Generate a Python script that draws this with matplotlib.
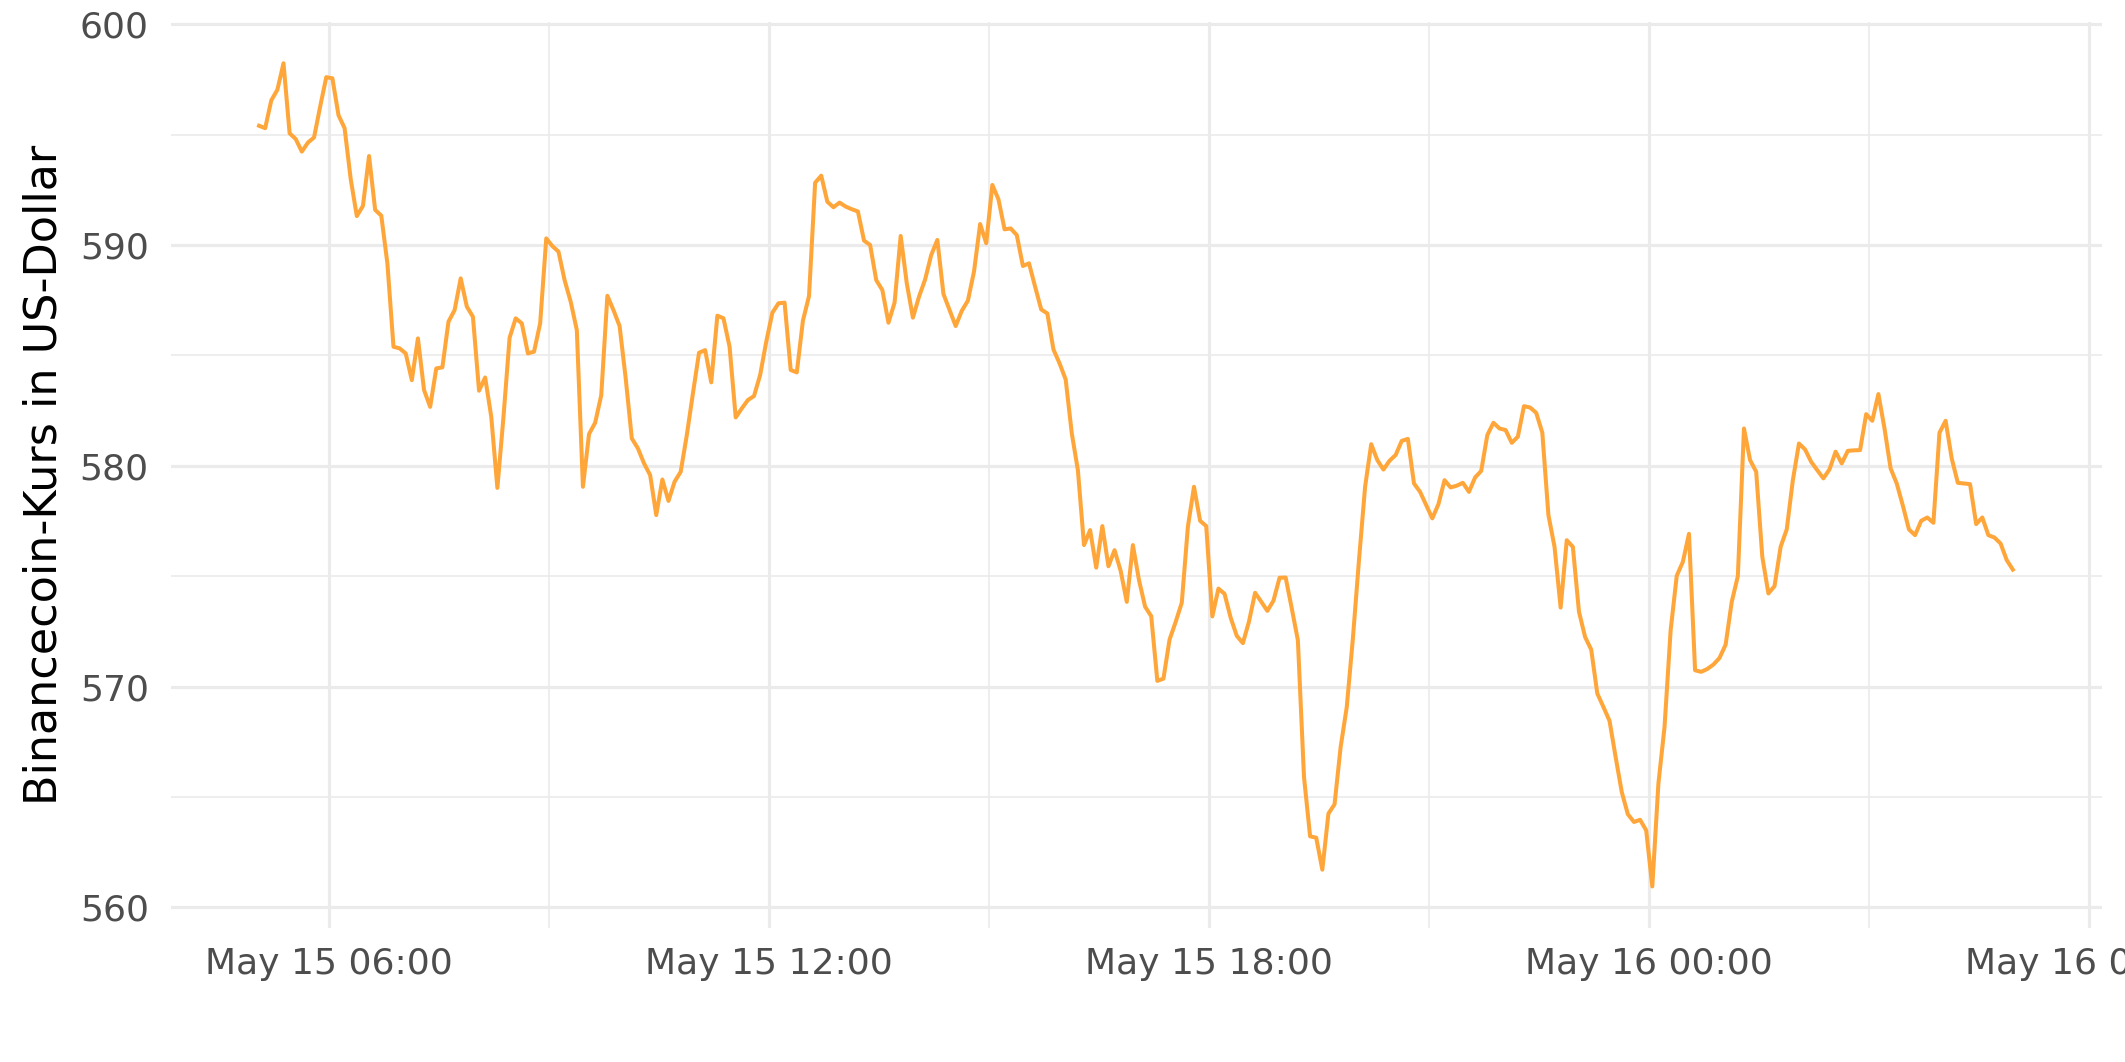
import numpy as np
import pandas as pd
import matplotlib
matplotlib.use("Agg")
import matplotlib.pyplot as plt
import matplotlib.dates as mdates
from matplotlib.ticker import MultipleLocator

# Binancecoin Kurs, 5-Minuten-Werte
start = "2021-05-15 05:03"
price = [
    595.40, 595.29, 596.55, 597.03, 598.23, 595.06, 594.80, 594.23, 594.64, 594.87,
    596.27, 597.60, 597.55, 595.88, 595.29, 592.98, 591.31, 591.77, 594.03, 591.59,
    591.33, 589.17, 585.39, 585.32, 585.09, 583.88, 585.77, 583.43, 582.67, 584.41,
    584.46, 586.53, 587.05, 588.49, 587.21, 586.75, 583.40, 584.00, 582.22, 579.00,
    582.22, 585.80, 586.68, 586.45, 585.09, 585.17, 586.45, 590.30, 589.95, 589.70,
    588.41, 587.43, 586.15, 579.05, 581.44, 581.95, 583.20, 587.70, 587.05, 586.33,
    583.96, 581.24, 580.79, 580.11, 579.58, 577.77, 579.38, 578.41, 579.28, 579.73,
    581.39, 583.28, 585.12, 585.24, 583.78, 586.80, 586.68, 585.39, 582.19, 582.60,
    582.98, 583.16, 584.11, 585.62, 586.93, 587.36, 587.39, 584.34, 584.23, 586.57,
    587.69, 592.82, 593.14, 591.96, 591.71, 591.92, 591.74, 591.62, 591.52, 590.20,
    590.00, 588.41, 587.96, 586.48, 587.39, 590.41, 588.26, 586.71, 587.66, 588.44,
    589.55, 590.23, 587.78, 587.05, 586.33, 587.02, 587.48, 588.80, 590.95, 590.08,
    592.72, 592.07, 590.71, 590.75, 590.45, 589.05, 589.17, 588.11, 587.08, 586.90,
    585.27, 584.64, 583.91, 581.47, 579.80, 576.41, 577.09, 575.39, 577.27, 575.45,
    576.18, 575.24, 573.84, 576.41, 574.82, 573.62, 573.19, 570.26, 570.36, 572.13,
    572.93, 573.80, 577.24, 579.05, 577.51, 577.27, 573.18, 574.44, 574.20, 573.12,
    572.30, 571.97, 572.95, 574.25, 573.85, 573.43, 573.89, 574.93, 574.94, 573.54,
    572.10, 565.91, 563.22, 563.16, 561.71, 564.25, 564.67, 567.27, 569.08, 572.18,
    575.73, 579.05, 580.98, 580.26, 579.83, 580.23, 580.49, 581.13, 581.22, 579.20,
    578.82, 578.22, 577.62, 578.26, 579.35, 579.02, 579.10, 579.23, 578.82, 579.47,
    579.77, 581.39, 581.95, 581.69, 581.62, 581.04, 581.32, 582.70, 582.64, 582.40,
    581.50, 577.77, 576.33, 573.58, 576.63, 576.33, 573.39, 572.25, 571.68, 569.69,
    569.08, 568.45, 566.81, 565.23, 564.22, 563.87, 563.97, 563.49, 560.95, 565.61,
    568.17, 572.55, 575.02, 575.65, 576.92, 570.74, 570.67, 570.80, 571.00, 571.30,
    571.90, 573.84, 575.00, 581.69, 580.26, 579.73, 575.88, 574.22, 574.55, 576.33,
    577.12, 579.35, 581.01, 580.74, 580.18, 579.80, 579.43, 579.84, 580.64, 580.11,
    580.68, 580.70, 580.71, 582.34, 582.04, 583.25, 581.69, 579.88, 579.20, 578.20,
    577.12, 576.86, 577.51, 577.66, 577.42, 581.50, 582.04, 580.33, 579.23, 579.20,
    579.17, 577.36, 577.66, 576.86, 576.75, 576.48, 575.73, 575.30,
]
time = pd.date_range(start, periods=len(price), freq="5min")

y_ticks = [560, 570, 580, 590, 600]

fig = plt.figure(figsize=(21.25, 10.62), dpi=100)
ax = fig.add_axes([0.0805, 0.1262, 0.9087, 0.8531])

ax.plot(time, price, color="#FFA63A", linewidth=2.9, zorder=3)

ax.set_xlim(pd.Timestamp("2021-05-15 03:51"), pd.Timestamp("2021-05-16 06:11"))
ax.set_ylim(559.07, 600.1)

ax.xaxis.set_major_locator(mdates.HourLocator(byhour=[0, 6, 12, 18]))
ax.xaxis.set_minor_locator(mdates.HourLocator(byhour=[3, 9, 15, 21]))
ax.xaxis.set_major_formatter(mdates.DateFormatter("%b %d %H:%M"))
ax.set_yticks(y_ticks)
ax.yaxis.set_minor_locator(MultipleLocator(5))

ax.grid(which="major", color="#EBEBEB", linewidth=2.3)
ax.grid(which="minor", color="#EBEBEB", linewidth=1.2)
ax.set_axisbelow(True)
for s in ax.spines.values():
    s.set_visible(False)

ax.tick_params(which="both", length=0)
ax.tick_params(axis="x", labelsize=26, labelcolor="#4D4D4D", pad=14)
ax.tick_params(axis="y", labelsize=26, labelcolor="#4D4D4D", pad=16)

ax.set_ylabel("Binancecoin-Kurs in US-Dollar", fontsize=32, color="black", labelpad=10)

fig.savefig("out.png", dpi=100)
